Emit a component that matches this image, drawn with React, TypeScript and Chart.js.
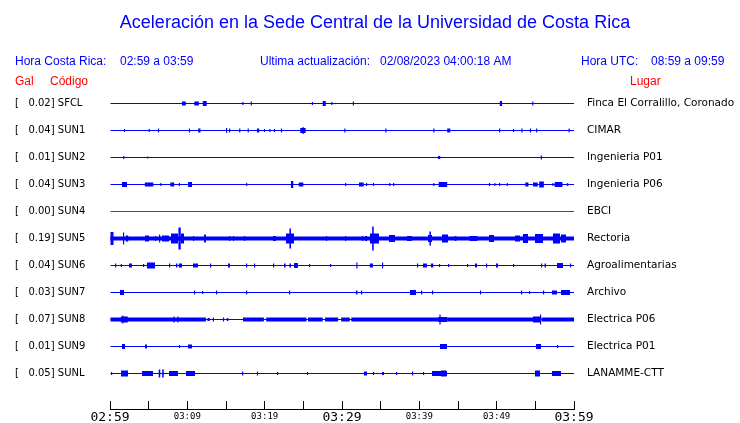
import React, { useEffect, useRef } from 'react';
import { Chart, registerables } from 'chart.js';

Chart.register(...registerables);

// ---------- texts ----------
const TITLE = 'Aceleración en la Sede Central de la Universidad de Costa Rica';
const HORA_CR_LABEL = 'Hora Costa Rica:';
const HORA_CR = '02:59 a 03:59';
const ACT_LABEL = 'Ultima actualización:';
const ACTUALIZACION = '02/08/2023 04:00:18 AM';
const HORA_UTC_LABEL = 'Hora UTC:';
const HORA_UTC = '08:59 a 09:59';

// ---------- stations ----------
const CODES = ['SFCL', 'SUN1', 'SUN2', 'SUN3', 'SUN4', 'SUN5', 'SUN6', 'SUN7', 'SUN8', 'SUN9', 'SUNL'];
const GAL = [0.02, 0.04, 0.01, 0.04, 0.0, 0.19, 0.04, 0.03, 0.07, 0.01, 0.05];
const PLACES = [
  'Finca El Corralillo, Coronado', 'CIMAR', 'Ingenieria P01', 'Ingenieria P06', 'EBCI', 'Rectoria',
  'Agroalimentarias', 'Archivo', 'Electrica P06', 'Electrica P01', 'LANAMME-CTT',
];
const OFFLINE = ['SUN4'];

// ---------- time axis (minutes after 02:59) ----------
const TICK_MINUTES = [0, 5, 10, 15, 20, 25, 30, 35, 40, 45, 50, 55, 60];
const TICK_LABELS = ['02:59', '', '03:09', '', '03:19', '', '03:29', '', '03:39', '', '03:49', '', '03:59'];
const MAJOR_TICKS = ['02:59', '03:29', '03:59'];

// ---------- bursts: [start min, end min, amplitude (peak to peak)] ----------
const SFCL = [
  [9.3, 9.8, 4], [10.9, 11.5, 4], [12.0, 12.5, 5], [17.1, 17.25, 3], [18.2, 18.35, 4], [26.1, 26.25, 3],
  [27.5, 27.9, 5], [28.6, 28.75, 3], [31.4, 31.55, 4], [50.4, 50.7, 5], [54.6, 54.75, 4],
];
const SUN1 = [
  [1.8, 1.95, 3], [5.0, 5.15, 3], [6.2, 6.35, 4], [10.2, 10.35, 4], [11.4, 11.7, 4], [15.0, 15.15, 5],
  [15.4, 15.55, 4], [16.7, 16.85, 4], [17.8, 17.95, 4], [19.0, 19.3, 4], [19.9, 20.05, 3], [20.6, 20.75, 3],
  [21.2, 21.35, 3], [22.1, 22.25, 4], [24.6, 25.3, 5], [24.9, 25.05, 7], [30.3, 30.45, 4], [35.6, 35.75, 4],
  [41.8, 41.95, 4], [43.6, 44.0, 4], [50.3, 50.45, 4], [52.1, 52.25, 3], [53.2, 53.35, 4], [54.3, 54.45, 4],
  [55.1, 55.25, 4], [59.3, 59.45, 4],
];
const SUN2 = [[1.7, 1.85, 3], [4.8, 4.95, 2], [42.4, 42.7, 3], [55.7, 55.85, 4]];
const SUN3 = [
  [1.55, 2.2, 5], [4.5, 5.6, 4], [6.5, 6.65, 3], [7.8, 8.3, 4], [8.9, 9.05, 3], [10.1, 10.6, 5], [17.6, 17.75, 3],
  [23.4, 23.7, 7], [24.4, 25.0, 4], [30.4, 30.55, 3], [32.2, 32.8, 4], [33.1, 33.25, 3], [34.0, 34.15, 3],
  [36.1, 36.25, 3], [36.6, 36.75, 3], [41.8, 41.95, 3], [42.5, 43.6, 5], [49.0, 49.15, 3], [49.7, 49.85, 3],
  [50.3, 50.45, 3], [51.3, 51.45, 3], [53.7, 54.1, 4], [54.7, 55.3, 4], [55.5, 56.1, 6], [57.2, 57.35, 3],
  [57.5, 58.5, 5], [59.1, 59.25, 3],
];
const SUN4: number[][] = [];
const SUN5 = [
  [0, 60, 4], [0, 0.45, 13], [1.68, 1.83, 12], [2.05, 2.35, 6], [4.53, 5.04, 6], [5.82, 5.97, 5], [6.34, 6.49, 8],
  [6.72, 7.63, 6], [7.89, 8.79, 10], [8.85, 9.15, 22], [9.18, 9.57, 10], [10.73, 10.88, 5], [12.16, 12.41, 8],
  [15.39, 15.54, 5], [15.9, 16.05, 5], [17.33, 17.48, 5], [21.08, 21.47, 5], [22.76, 23.79, 10],
  [23.2, 23.4, 20], [27.93, 28.08, 5], [30.39, 30.54, 5], [32.59, 32.74, 5], [32.97, 33.23, 5],
  [33.62, 34.78, 10], [33.9, 34.1, 24], [36.08, 36.85, 7], [38.4, 39.05, 5], [41.12, 41.64, 7],
  [41.3, 41.5, 14], [42.93, 43.71, 8], [44.6, 44.8, 5], [46.5, 47.5, 5], [49.01, 49.66, 7], [52.37, 53.02, 6],
  [53.4, 54.05, 9], [54.96, 55.99, 9], [57.28, 58.19, 10], [58.32, 58.96, 8],
];
const SUN6 = [
  [0.65, 0.8, 4], [1.4, 1.55, 3], [2.46, 2.84, 4], [4.27, 4.42, 3], [4.78, 5.82, 6], [7.63, 7.78, 4],
  [8.53, 8.7, 4], [8.9, 9.31, 4], [10.73, 11.38, 4], [12.93, 13.08, 4], [15.26, 15.52, 4], [17.59, 17.74, 4],
  [18.62, 18.77, 4], [21.08, 21.23, 4], [22.5, 22.7, 4], [23.2, 23.4, 4], [23.8, 24.3, 5], [25.73, 25.88, 3],
  [28.45, 28.6, 3], [31.85, 32.0, 6], [33.6, 34.0, 4], [35.17, 35.32, 6], [39.7, 39.85, 4], [40.47, 40.99, 4],
  [41.5, 41.8, 4], [42.54, 42.69, 3], [43.71, 43.86, 3], [46.16, 46.31, 3], [47.2, 47.46, 4], [48.62, 48.77, 4],
  [49.91, 50.17, 4], [52.11, 52.26, 3], [55.73, 55.88, 4], [56.2, 56.38, 4], [57.8, 58.58, 5], [59.48, 59.63, 4],
];
const SUN7 = [
  [1.29, 1.81, 5], [10.86, 11.01, 4], [11.9, 12.05, 3], [13.71, 13.86, 4], [17.59, 17.74, 4], [23.15, 23.3, 4],
  [31.8, 32.0, 4], [32.46, 32.61, 4], [38.79, 39.57, 5], [40.22, 40.37, 4], [41.64, 41.79, 4], [47.84, 47.99, 4],
  [53.15, 53.3, 4], [54.18, 54.33, 3], [55.99, 56.14, 4], [57.15, 57.8, 4], [58.32, 59.48, 5],
];
const SUN8 = [
  [0, 12.4, 4], [1.4, 2.3, 6], [1.6, 1.75, 8], [8.2, 8.35, 6], [8.7, 8.85, 6], [12.6, 12.9, 3], [13.3, 13.45, 4],
  [14.6, 14.75, 4], [15.1, 15.3, 3], [17.2, 19.9, 4], [20.2, 25.4, 4], [25.6, 27.5, 4], [27.8, 29.5, 4],
  [29.9, 31.0, 4], [31.2, 42.4, 4], [42.4, 43.6, 5], [42.6, 42.75, 10], [43.6, 54.7, 4], [54.7, 55.6, 6],
  [55.6, 55.75, 10], [55.8, 60, 4],
];
const SUN9 = [
  [1.55, 1.94, 5], [4.53, 4.78, 4], [8.92, 9.07, 3], [10.09, 10.6, 4], [42.67, 43.58, 5], [55.09, 55.73, 5],
  [57.8, 57.95, 3],
];
const SUNL = [
  [0.13, 0.28, 3], [1.42, 2.33, 6], [4.14, 5.56, 5], [6.3, 6.5, 8], [6.75, 6.95, 8], [7.63, 8.79, 5],
  [9.83, 10.99, 5], [17.07, 17.22, 4], [19.0, 19.14, 4], [21.59, 21.74, 3], [25.47, 25.62, 3], [32.84, 33.23, 4],
  [34.0, 34.15, 3], [35.17, 35.43, 3], [36.98, 37.13, 3], [39.05, 39.2, 4], [40.47, 40.62, 3], [41.64, 43.58, 5],
  [42.8, 43.5, 6], [54.96, 55.6, 6], [57.15, 58.32, 5],
];
const BURSTS = [SFCL, SUN1, SUN2, SUN3, SUN4, SUN5, SUN6, SUN7, SUN8, SUN9, SUNL];

// ---------- layout constants ----------
const W = 740;
const H = 423;
const PLOT_LEFT = 110;
const PLOT_RIGHT = 574;
const PLOT_TOP = 90;
const AXIS_Y = 409;
const FIRST_ROW_Y = 103.5;
const ROW_PX = 27;
const LABEL_LEFT = 15;
const BLUE = '#0000ff';
const RED = '#ff0000';

const Y_MIN = (PLOT_TOP - FIRST_ROW_Y) / ROW_PX;
const Y_MAX = (AXIS_Y - FIRST_ROW_Y) / ROW_PX;

const headerPlugin = {
  id: 'header',
  afterDraw(chart: any) {
    const ctx = chart.ctx;
    ctx.save();
    ctx.textBaseline = 'alphabetic';
    ctx.fillStyle = BLUE;
    ctx.font = "18px 'Liberation Sans', Arial, sans-serif";
    ctx.textAlign = 'center';
    ctx.fillText(TITLE, 375, 28);
    ctx.font = "12px 'Liberation Sans', Arial, sans-serif";
    ctx.textAlign = 'left';
    ctx.fillText(HORA_CR_LABEL, 15, 65);
    ctx.fillText(HORA_CR, 120, 65);
    ctx.fillText(ACT_LABEL, 260, 65);
    ctx.fillText(ACTUALIZACION, 380, 65);
    ctx.fillText(HORA_UTC_LABEL, 581, 65);
    ctx.fillText(HORA_UTC, 651, 65);
    ctx.fillStyle = RED;
    ctx.fillText('Gal', 15, 85);
    ctx.fillText('Código', 50, 85);
    ctx.fillText('Lugar', 630, 85);
    ctx.restore();
  },
};

function buildDatasets() {
  const datasets: any[] = [];
  datasets.push({
    label: 'base',
    data: CODES.map((_, i) => ({ x: [0, 60], y: i })),
    backgroundColor: CODES.map((c) => (OFFLINE.includes(c) ? RED : BLUE)),
    barThickness: 1,
  });
  const byAmp = new Map<number, any[]>();
  BURSTS.forEach((list, row) => {
    list.forEach(([t0, t1, a]) => {
      if (!byAmp.has(a)) byAmp.set(a, []);
      byAmp.get(a)!.push({ x: [t0, t1], y: row });
    });
  });
  Array.from(byAmp.keys())
    .sort((a, b) => b - a)
    .forEach((a) => {
      datasets.push({
        label: 'amp' + a,
        data: byAmp.get(a),
        backgroundColor: BLUE,
        barThickness: a,
      });
    });
  return datasets;
}

const yCommon = {
  type: 'linear',
  reverse: true,
  min: Y_MIN,
  max: Y_MAX,
  offset: false,
  afterBuildTicks: (s: any) => {
    s.ticks = CODES.map((_, i) => ({ value: i }));
  },
  grid: { display: false, drawTicks: false },
  border: { display: false },
};

export default function App() {
  const ref = useRef<HTMLCanvasElement | null>(null);
  useEffect(() => {
    if (!ref.current) return;
    const chart = new Chart(ref.current, {
      type: 'bar',
      data: { datasets: buildDatasets() },
      plugins: [headerPlugin],
      options: {
        indexAxis: 'y',
        animation: false,
        responsive: false,
        devicePixelRatio: 1,
        layout: { padding: { top: PLOT_TOP, left: LABEL_LEFT, right: 0, bottom: 0 } },
        plugins: { legend: { display: false }, tooltip: { enabled: false }, title: { display: false } },
        datasets: { bar: { grouped: false, borderWidth: 0, inflateAmount: 0 } as any },
        scales: {
          x: {
            type: 'linear',
            position: 'bottom',
            min: 0,
            max: 60,
            offset: false,
            afterBuildTicks: (s: any) => {
              s.ticks = TICK_MINUTES.map((v) => ({ value: v }));
            },
            afterFit: (s: any) => {
              s.height = H - AXIS_Y;
              s.paddingTop = 0;
              s.paddingBottom = 0;
            },
            grid: {
              drawOnChartArea: false,
              drawTicks: true,
              tickLength: -8,
              tickColor: '#000',
              tickWidth: 1,
              offset: false,
            },
            border: { display: true, color: '#000', width: 1 },
            ticks: {
              autoSkip: false,
              maxRotation: 0,
              padding: 9,
              color: '#000',
              callback: (_v: any, i: number) => TICK_LABELS[i],
              font: (ctx: any) => {
                const lbl = TICK_LABELS[ctx.index];
                return MAJOR_TICKS.includes(lbl)
                  ? { family: "'DejaVu Sans Mono', monospace", size: 13, lineHeight: 1.2 }
                  : { family: "'DejaVu Sans Mono', monospace", size: 9, lineHeight: 1.5 };
              },
            },
          } as any,
          y: {
            ...yCommon,
            position: 'left',
            afterFit: (s: any) => {
              s.width = PLOT_LEFT - LABEL_LEFT;
              s.paddingTop = 0;
              s.paddingBottom = 0;
            },
            ticks: {
              crossAlign: 'far',
              padding: 0,
              color: '#000',
              font: { family: "'DejaVu Sans', sans-serif", size: 10 },
              callback: (_v: any, i: number) => '[' + GAL[i].toFixed(2).padStart(7, ' ') + '] ' + CODES[i],
            },
          } as any,
          y2: {
            ...yCommon,
            position: 'right',
            afterFit: (s: any) => {
              s.width = W - PLOT_RIGHT;
              s.paddingTop = 0;
              s.paddingBottom = 0;
            },
            ticks: {
              padding: 13,
              color: '#000',
              font: { family: "'DejaVu Sans', sans-serif", size: 10.5 },
              callback: (_v: any, i: number) => PLACES[i],
            },
          } as any,
        },
      },
    });
    return () => chart.destroy();
  }, []);
  return (
    <div style={{ position: 'absolute', left: 0, top: 0, width: W, height: H, background: '#fff' }}>
      <canvas ref={ref} width={W} height={H} style={{ width: W, height: H, display: 'block' }} />
    </div>
  );
}
